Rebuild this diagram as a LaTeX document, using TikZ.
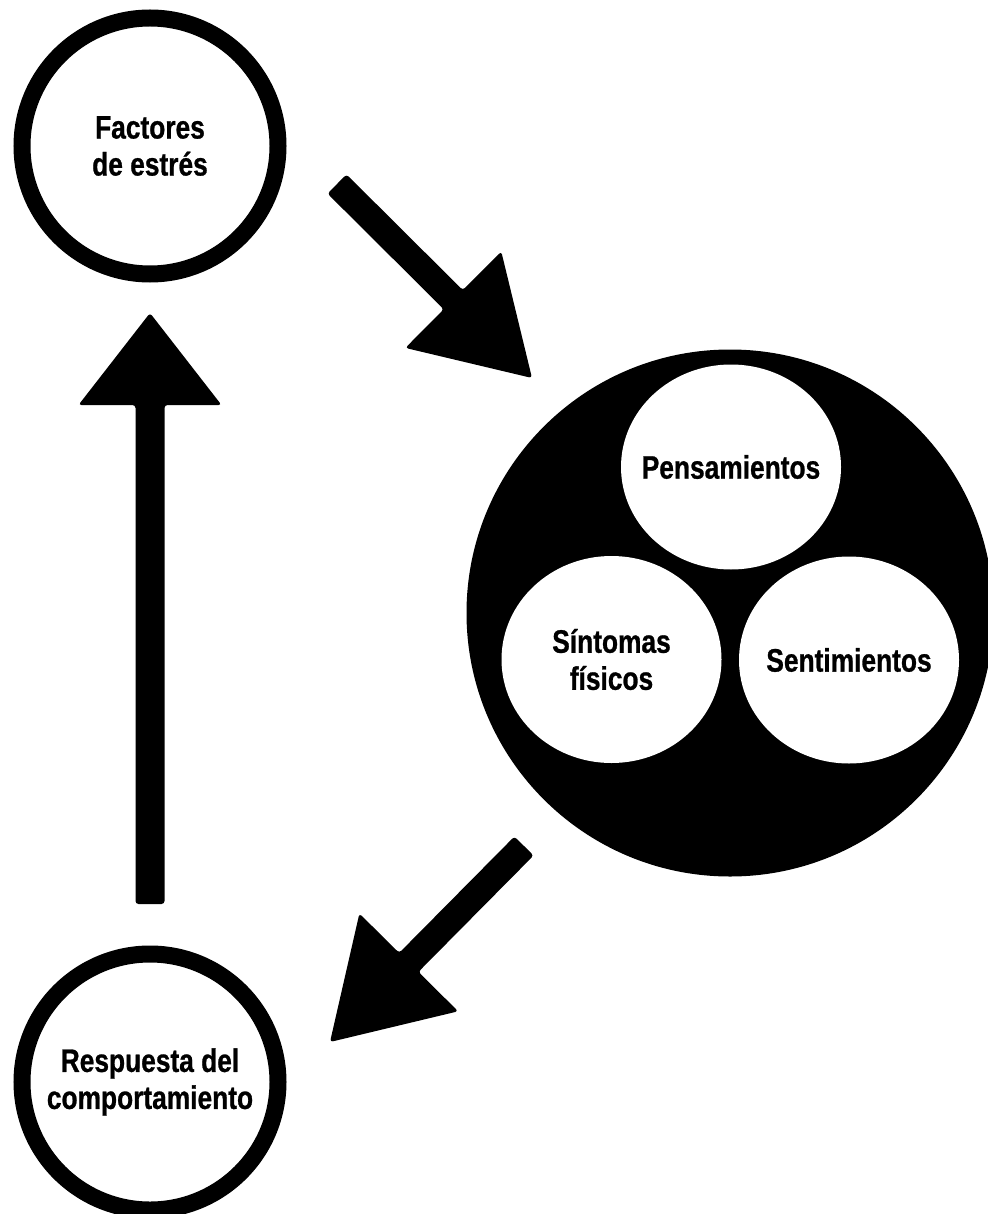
\documentclass[tikz,border=0pt]{standalone}
\usepackage{fontspec}
\newfontfamily\lblfont[FakeStretch=0.81,FakeBold=0.8]{Liberation Sans}
\usetikzlibrary{shapes.geometric,calc}
\tikzset{
  lbl/.style={font=\lblfont\bfseries\fontsize{32.5}{37}\selectfont, align=center, text=black},
  ringnode/.style={circle, draw=black, line width=17pt, fill=white, minimum size=256pt, inner sep=0pt, lbl},
  bignode/.style={circle, fill=black, minimum size=527pt, inner sep=0pt},
  innernode/.style={ellipse, fill=white, minimum width=220pt, minimum height=205pt, inner sep=0pt},
  blockarrow/.style={fill=black, rounded corners=3pt}
}
% #1 tail, #2 tip, #3 half shaft width, #4 head length, #5 half head width
\newcommand{\myblockarrow}[5]{%
  \coordinate (ab) at ($(#2)!#4!(#1)$);
  \fill[blockarrow]
    ($(#1)!#3!90:(#2)$) --
    ($(ab)!#3!90:(#2)$) --
    ($(ab)!#5!90:(#2)$) --
    (#2) --
    ($(ab)!#5!-90:(#2)$) --
    ($(ab)!#3!-90:(#2)$) --
    ($(#1)!#3!-90:(#2)$) -- cycle;
}
\begin{document}
\begin{tikzpicture}[x=1pt,y=-1pt]
\useasboundingbox (0,0) rectangle (987,1214);
\fill[white] (0,0) rectangle (987,1214);

\node[ringnode] (factores) at (150,146) {Factores\\de estrés};
\node[ringnode] (respuesta) at (150,1082) {Respuesta del\\comportamiento};

\node[bignode] (big) at (730,613) {};
\node[innernode] (pens) at (731,467) {};
\node[lbl] (penslbl) at (pens.center) {Pensamientos};
\node[innernode, minimum height=207pt] (sint) at (611.5,659.5) {};
\node[lbl] (sintlbl) at (sint.center) {Síntomas\\físicos};
\node[innernode, minimum height=207pt] (sent) at (849,660) {};
\node[lbl] (sentlbl) at (sent.center) {Sentimientos};

% arrow: factores -> big
\coordinate (a1tail) at (337,184);
\coordinate (a1tip) at (532,378);
\myblockarrow{a1tail}{a1tip}{13.5pt}{111pt}{68pt}

% arrow: big -> respuesta
\coordinate (a2tail) at (524,846);
\coordinate (a2tip) at (330,1042);
\myblockarrow{a2tail}{a2tip}{13.5pt}{112pt}{69.5pt}

% arrow: respuesta -> factores
\coordinate (a3tail) at (150,904);
\coordinate (a3tip) at (150,313);
\myblockarrow{a3tail}{a3tip}{14.5pt}{92pt}{71.5pt}
\end{tikzpicture}
\end{document}
